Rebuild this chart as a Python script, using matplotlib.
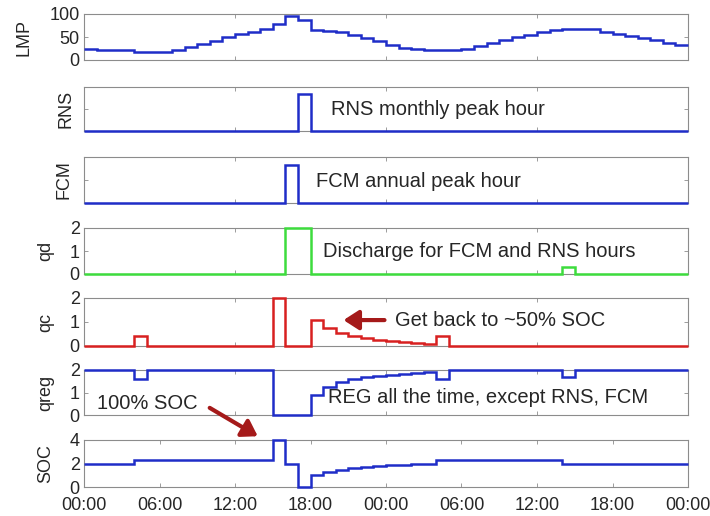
import numpy as np
import matplotlib
matplotlib.use("Agg")
import matplotlib.pyplot as plt

###   Data (hourly values over 48 hours)

hours = np.arange(49)

lmp = [24, 22, 21, 21, 18, 17, 18, 22, 28, 35, 42, 50, 56, 61, 67, 79, 96, 87, 66, 62, 60, 55, 47, 41,
       33, 27, 24, 22, 22, 21, 24, 30, 37, 43, 50, 54, 60, 65, 67, 67, 67, 61, 56, 52, 48, 44, 37, 32]

rns = [0, 0, 0, 0, 0, 0, 0, 0, 0, 0, 0, 0, 0, 0, 0, 0, 0, 1, 0, 0, 0, 0, 0, 0,
       0, 0, 0, 0, 0, 0, 0, 0, 0, 0, 0, 0, 0, 0, 0, 0, 0, 0, 0, 0, 0, 0, 0, 0]

fcm = [0, 0, 0, 0, 0, 0, 0, 0, 0, 0, 0, 0, 0, 0, 0, 0, 1, 0, 0, 0, 0, 0, 0, 0,
       0, 0, 0, 0, 0, 0, 0, 0, 0, 0, 0, 0, 0, 0, 0, 0, 0, 0, 0, 0, 0, 0, 0, 0]

qd = [0, 0, 0, 0, 0, 0, 0, 0, 0, 0, 0, 0, 0, 0, 0, 0, 2, 2, 0, 0, 0, 0, 0, 0,
      0, 0, 0, 0, 0, 0, 0, 0, 0, 0, 0, 0, 0, 0, 0.3, 0, 0, 0, 0, 0, 0, 0, 0, 0]

qc = [0, 0, 0, 0, 0.4, 0, 0, 0, 0, 0, 0, 0, 0, 0, 0, 2, 0, 0, 1.1, 0.75, 0.55, 0.42, 0.32, 0.25,
      0.2, 0.16, 0.12, 0.1, 0.4, 0, 0, 0, 0, 0, 0, 0, 0, 0, 0, 0, 0, 0, 0, 0, 0, 0, 0, 0]

qreg = [2, 2, 2, 2, 1.6, 2, 2, 2, 2, 2, 2, 2, 2, 2, 2, 0, 0, 0, 0.9, 1.25, 1.45, 1.58, 1.68, 1.75,
        1.8, 1.84, 1.88, 1.9, 1.6, 2, 2, 2, 2, 2, 2, 2, 2, 2, 1.7, 2, 2, 2, 2, 2, 2, 2, 2, 2]

soc = [2, 2, 2, 2, 2.3, 2.3, 2.3, 2.3, 2.3, 2.3, 2.3, 2.3, 2.3, 2.3, 2.3, 4, 2, 0, 1.0, 1.25, 1.45, 1.6, 1.7, 1.78,
       1.84, 1.88, 1.92, 1.95, 2.3, 2.3, 2.3, 2.3, 2.3, 2.3, 2.3, 2.3, 2.3, 2.3, 2, 2, 2, 2, 2, 2, 2, 2, 2, 2]

xtick_labels = ["00:00", "06:00", "12:00", "18:00", "00:00", "06:00", "12:00", "18:00", "00:00"]

###   Style

BLUE = "#1f2dc8"
GREEN = "#3ddc3d"
RED = "#d82020"
ARROW = "#a51a1a"
FRAME = "#8c8c8c"
TEXT = "#262626"

plt.rcParams["font.family"] = ["Liberation Sans", "DejaVu Sans"]
plt.rcParams["font.size"] = 13
plt.rcParams["text.color"] = TEXT
plt.rcParams["axes.labelcolor"] = TEXT
plt.rcParams["xtick.labelcolor"] = TEXT
plt.rcParams["ytick.labelcolor"] = TEXT

# name, values, colour, ylim, yticks, show ytick labels, top px, bottom px, ylabel x px
panels = [
    ("LMP", lmp, BLUE, (0, 100), [0, 50, 100], True, 14, 60, 33),
    ("RNS", rns, BLUE, (0, 1.2), [0.6], False, 87, 131, 75),
    ("FCM", fcm, BLUE, (0, 1.2), [0.6], False, 157, 203, 73),
    ("qd", qd, GREEN, (0, 2), [0, 1, 2], True, 228, 274, 54),
    ("qc", qc, RED, (0, 2), [0, 1, 2], True, 298, 346, 54),
    ("qreg", qreg, BLUE, (0, 2), [0, 1, 2], True, 370, 415, 54),
    ("SOC", soc, BLUE, (0, 4), [0, 2, 4], True, 440, 487, 54),
]

W, H = 710, 516
L, R = 84, 688

fig = plt.figure(figsize=(W / 100, H / 100), dpi=100)
axes = {}

for name, vals, color, ylim, yticks, ylabels, top, bot, labx in panels:
    ax = fig.add_axes([L / W, 1 - bot / H, (R - L) / W, (bot - top) / H])
    ax.stairs(vals, hours, baseline=None, color=color, linewidth=1.8, clip_on=False, zorder=3)
    ax.set_xlim(0, 48)
    ax.set_ylim(*ylim)
    ax.set_yticks(yticks)
    if not ylabels:
        ax.set_yticklabels([])
    if name == "SOC":
        ax.set_xticks(np.arange(0, 49, 6))
        ax.set_xticklabels(xtick_labels)
    else:
        ax.set_xticks([12, 24, 36])
        ax.set_xticklabels([])
    ax.tick_params(direction="in", top=True, right=True, length=3, width=0.6,
                   color=FRAME, pad=3)
    ax.tick_params(axis="x", pad=7)
    for s in ax.spines.values():
        s.set_color(FRAME)
        s.set_linewidth(0.8)
    ax.set_ylabel(name)
    ax.yaxis.set_label_coords((labx - L) / (R - L), 0.5)
    axes[name] = ax

###   Annotations

arrow_style = dict(arrowstyle="-|>,head_length=0.7,head_width=0.45", color=ARROW, lw=3)

axes["RNS"].text(19.6, 0.48, "RNS monthly peak hour", transform=axes["RNS"].get_xaxis_transform(),
                 va="center", ha="left", fontsize=14.5)
axes["FCM"].text(18.4, 0.46, "FCM annual peak hour", transform=axes["FCM"].get_xaxis_transform(),
                 va="center", ha="left", fontsize=14.5)
axes["qd"].text(19.0, 0.48, "Discharge for FCM and RNS hours", transform=axes["qd"].get_xaxis_transform(),
                va="center", ha="left", fontsize=14.5)
axes["qc"].text(24.7, 1.05, "Get back to ~50% SOC", va="center", ha="left", fontsize=14.5)
axes["qc"].annotate("", xy=(20.4, 1.08), xytext=(24.1, 1.08), arrowprops=arrow_style)
axes["qreg"].text(19.4, 0.76, "REG all the time, except RNS, FCM", va="center", ha="left", fontsize=14.5)
axes["qreg"].text(1.0, 0.52, "100% SOC", va="center", ha="left", fontsize=14.5)
axes["SOC"].annotate("", xy=(14.0, 4.2), xytext=(9.8, 0.38),
                     textcoords=axes["qreg"].transData, annotation_clip=False,
                     arrowprops=arrow_style)

fig.savefig("out.png", dpi=100)
